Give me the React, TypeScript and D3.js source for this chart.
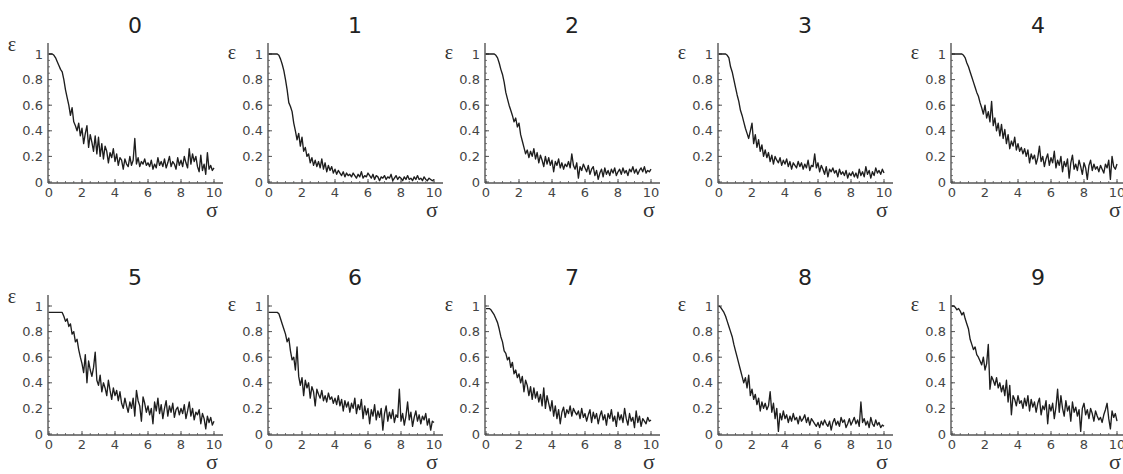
import React from "react";
import * as d3 from "d3";

// sigma grid step (0 .. 10)
const sigmaStep = 0.1;
const panelTitles = ["0", "1", "2", "3", "4", "5", "6", "7", "8", "9"];
const yTickValues = [0, 0.2, 0.4, 0.6, 0.8, 1];
const yTickLabels = ["0", "0.2", "0.4", "0.6", "0.8", "1"];
const xTickValues = [0, 2, 4, 6, 8, 10];
const xTickLabels = ["0", "2", "4", "6", "8", "10"];

const panel0 = [
  1, 1, 1, 0.99, 0.97, 0.94, 0.91, 0.88, 0.86, 0.8,
  0.72, 0.66, 0.6, 0.52, 0.58, 0.47, 0.44, 0.4, 0.46, 0.36,
  0.42, 0.3, 0.38, 0.44, 0.27, 0.37, 0.31, 0.24, 0.36, 0.22,
  0.35, 0.2, 0.3, 0.18, 0.28, 0.24, 0.15, 0.23, 0.19, 0.26,
  0.16, 0.22, 0.13, 0.19, 0.17, 0.1, 0.18, 0.14, 0.12, 0.2,
  0.13, 0.17, 0.34, 0.14, 0.19, 0.12, 0.16, 0.14, 0.18, 0.13,
  0.15, 0.12, 0.17, 0.1, 0.14, 0.11, 0.19, 0.13, 0.16, 0.12,
  0.18, 0.11, 0.15, 0.2, 0.12, 0.16, 0.14, 0.1, 0.19, 0.13,
  0.17, 0.12, 0.2, 0.15, 0.11, 0.26, 0.14, 0.22, 0.16, 0.2,
  0.12, 0.08, 0.21, 0.09, 0.14, 0.06, 0.23, 0.1, 0.13, 0.09, 0.11,
];
const panel1 = [
  1, 1, 1, 1, 1, 1, 0.99, 0.96, 0.92, 0.87,
  0.8, 0.72, 0.62, 0.59, 0.55, 0.46, 0.4, 0.33, 0.38, 0.28,
  0.35, 0.24, 0.27, 0.2, 0.22, 0.15, 0.19, 0.13, 0.17, 0.12,
  0.16, 0.11, 0.18, 0.1, 0.15, 0.08, 0.13, 0.09, 0.12, 0.07,
  0.1, 0.06, 0.09, 0.07, 0.05, 0.08, 0.04, 0.07, 0.05, 0.06,
  0.04, 0.07, 0.05, 0.03, 0.06, 0.04, 0.08, 0.03, 0.05, 0.04,
  0.07, 0.05, 0.03, 0.06, 0.02, 0.05, 0.04, 0.01, 0.04, 0.03,
  0.05, 0.02, 0.04, 0.03, 0.06, 0.01, 0.03, 0.05, 0.02, 0.04,
  0.03, 0.01, 0.04, 0.02, 0.05, 0.02, 0.03, 0.01, 0.04, 0.02,
  0.05, 0.02, 0.03, 0.01, 0.04, 0.02, 0.01, 0.03, 0.02, 0.01, 0.02,
];
const panel2 = [
  1, 1, 1, 1, 1, 1, 0.99, 0.97, 0.93, 0.88,
  0.84, 0.78, 0.7, 0.65, 0.6, 0.56, 0.52, 0.47, 0.5, 0.43,
  0.46, 0.37, 0.32, 0.27, 0.22, 0.25, 0.19, 0.24, 0.2, 0.26,
  0.18, 0.23, 0.15, 0.21, 0.17, 0.12, 0.2, 0.14, 0.19, 0.13,
  0.17, 0.08, 0.16, 0.13, 0.18, 0.11, 0.15, 0.1, 0.14, 0.12,
  0.16, 0.11, 0.22, 0.13, 0.1, 0.15, 0.03, 0.12, 0.09, 0.14,
  0.11, 0.08, 0.13, 0.06, 0.1, 0.12, 0.05, 0.09, 0.02, 0.07,
  0.1, 0.04, 0.11, 0.06, 0.09, 0.05, 0.1, 0.07, 0.11, 0.05,
  0.08, 0.1, 0.06, 0.11, 0.07, 0.09, 0.05, 0.1, 0.08, 0.12,
  0.07, 0.1, 0.06, 0.09, 0.11, 0.08, 0.12, 0.07, 0.09, 0.08, 0.1,
];
const panel3 = [
  1, 1, 1, 1, 1, 0.99, 0.97, 0.9, 0.86, 0.8,
  0.74, 0.68, 0.63, 0.56, 0.52, 0.47, 0.42, 0.38, 0.34, 0.4,
  0.46, 0.3, 0.37, 0.27, 0.33, 0.24, 0.29, 0.2, 0.25, 0.19,
  0.23, 0.16, 0.21, 0.14, 0.2, 0.17, 0.15, 0.19, 0.13, 0.17,
  0.14, 0.18, 0.12, 0.16, 0.1, 0.15, 0.13, 0.11, 0.16, 0.12,
  0.15, 0.1, 0.14, 0.11, 0.17, 0.09, 0.13, 0.12, 0.22, 0.11,
  0.15, 0.08, 0.13, 0.1, 0.06, 0.12, 0.04, 0.1, 0.08, 0.11,
  0.07, 0.09, 0.04, 0.1, 0.06, 0.08, 0.05, 0.09, 0.03, 0.07,
  0.05, 0.08, 0.04, 0.07, 0.03, 0.1, 0.05, 0.08, 0.04, 0.12,
  0.06, 0.09, 0.03, 0.08, 0.05, 0.11, 0.07, 0.09, 0.06, 0.1, 0.07,
];
const panel4 = [
  1, 1, 1, 1, 1, 1, 1, 0.99, 0.97, 0.93,
  0.9, 0.86, 0.82, 0.78, 0.74, 0.7, 0.67, 0.62, 0.58, 0.53,
  0.6, 0.5, 0.55, 0.47, 0.63, 0.44, 0.5, 0.4, 0.46, 0.36,
  0.45, 0.34, 0.41, 0.3, 0.37, 0.26, 0.32, 0.28, 0.35, 0.25,
  0.3, 0.24, 0.27, 0.22, 0.26, 0.2, 0.25, 0.15, 0.22, 0.18,
  0.21, 0.14, 0.19, 0.28, 0.16, 0.2, 0.12, 0.18, 0.22, 0.13,
  0.19, 0.15, 0.24, 0.11, 0.17, 0.13, 0.2, 0.08, 0.16, 0.12,
  0.18, 0.03, 0.15, 0.21, 0.1, 0.14, 0.09, 0.17, 0.12, 0.06,
  0.15, 0.11, 0.02, 0.13, 0.17, 0.09, 0.14, 0.1, 0.12, 0.08,
  0.13, 0.1, 0.07, 0.14, 0.11, 0.17, 0.02, 0.2, 0.12, 0.1, 0.14,
];
const panel5 = [
  0.95, 0.95, 0.95, 0.95, 0.95, 0.95, 0.95, 0.95, 0.95, 0.92,
  0.88, 0.9, 0.84, 0.86, 0.78, 0.8, 0.72, 0.74, 0.66, 0.6,
  0.55, 0.48, 0.62, 0.4, 0.57, 0.5, 0.45, 0.52, 0.64, 0.42,
  0.38, 0.46, 0.33, 0.4, 0.36, 0.3, 0.42, 0.34, 0.27, 0.36,
  0.3, 0.34, 0.26, 0.33, 0.24, 0.2, 0.28, 0.22, 0.17, 0.25,
  0.2, 0.28, 0.14, 0.34, 0.26, 0.22, 0.1, 0.29, 0.24, 0.17,
  0.22, 0.15, 0.2, 0.08, 0.25, 0.18, 0.28, 0.16, 0.23, 0.12,
  0.2, 0.26, 0.14, 0.22, 0.17, 0.24, 0.13, 0.19, 0.21, 0.15,
  0.2, 0.16, 0.23, 0.12, 0.18, 0.25, 0.14, 0.2, 0.11, 0.17,
  0.15, 0.19, 0.08, 0.16, 0.12, 0.04, 0.14, 0.09, 0.13, 0.07, 0.1,
];
const panel6 = [
  0.95, 0.95, 0.95, 0.95, 0.95, 0.95, 0.94, 0.9, 0.86, 0.82,
  0.78, 0.72, 0.75, 0.65, 0.58, 0.6, 0.5, 0.68, 0.45, 0.38,
  0.44, 0.3, 0.42, 0.36, 0.4, 0.28, 0.37, 0.33, 0.22, 0.35,
  0.31, 0.28, 0.34, 0.26, 0.3, 0.25, 0.32, 0.27, 0.29, 0.24,
  0.28, 0.23, 0.3, 0.22, 0.27, 0.18, 0.26, 0.21, 0.25, 0.17,
  0.24, 0.2, 0.28, 0.16, 0.23, 0.19, 0.27, 0.12, 0.22, 0.15,
  0.2, 0.08, 0.19, 0.14, 0.23, 0.11, 0.18, 0.13, 0.2, 0.03,
  0.16, 0.22, 0.1, 0.17, 0.12, 0.19, 0.09, 0.15, 0.13, 0.35,
  0.1, 0.16, 0.07, 0.14, 0.25, 0.11, 0.17, 0.06, 0.13, 0.18,
  0.1, 0.15, 0.08, 0.14, 0.11, 0.16, 0.07, 0.12, 0.03, 0.1, 0.09,
];
const panel7 = [
  0.98, 0.98, 0.98, 0.97, 0.95, 0.93, 0.9, 0.87, 0.82, 0.76,
  0.72, 0.65, 0.63, 0.58, 0.6, 0.52, 0.56, 0.47, 0.5, 0.44,
  0.47, 0.4, 0.45, 0.33, 0.42, 0.38, 0.3, 0.37, 0.27, 0.36,
  0.28, 0.33, 0.25, 0.31, 0.22, 0.36, 0.2, 0.3, 0.24, 0.18,
  0.26, 0.14, 0.22, 0.12, 0.19, 0.08, 0.17, 0.21, 0.13, 0.19,
  0.16, 0.22, 0.14, 0.2, 0.17, 0.15, 0.18, 0.12, 0.2, 0.13,
  0.16, 0.1, 0.15, 0.19, 0.09, 0.17, 0.12, 0.16, 0.08, 0.14,
  0.18, 0.11, 0.15, 0.07, 0.16, 0.12, 0.19, 0.1, 0.14, 0.06,
  0.17, 0.11, 0.15, 0.09, 0.2, 0.12, 0.07, 0.16, 0.1, 0.13,
  0.05, 0.18, 0.09, 0.14, 0.06, 0.12, 0.1, 0.08, 0.13, 0.1, 0.11,
];
const panel8 = [
  1, 0.99, 0.97, 0.95, 0.92, 0.88, 0.84, 0.8, 0.76, 0.7,
  0.65, 0.6, 0.55, 0.5, 0.45, 0.4, 0.44, 0.36, 0.46, 0.3,
  0.35, 0.27, 0.31, 0.23, 0.28, 0.18, 0.25, 0.2, 0.24, 0.19,
  0.22, 0.33, 0.17, 0.24, 0.12, 0.2, 0.02, 0.16, 0.11, 0.18,
  0.12, 0.15, 0.09, 0.14, 0.1, 0.16, 0.11, 0.13, 0.08, 0.14,
  0.1, 0.12, 0.15, 0.09, 0.13, 0.07, 0.12, 0.1, 0.08, 0.06,
  0.09, 0.05, 0.1, 0.07, 0.11, 0.08, 0.06, 0.1, 0.03, 0.09,
  0.12, 0.07, 0.1, 0.06, 0.13, 0.09, 0.11, 0.05, 0.08, 0.12,
  0.07, 0.1, 0.13, 0.08, 0.11, 0.06, 0.25, 0.09, 0.12, 0.07,
  0.1, 0.05, 0.13, 0.08, 0.06, 0.11, 0.07, 0.09, 0.05, 0.07, 0.06,
];
const panel9 = [
  1, 1, 0.99, 0.97, 0.98, 0.96, 0.93, 0.95, 0.9, 0.86,
  0.82, 0.74, 0.7, 0.66, 0.68, 0.62, 0.6, 0.57, 0.54, 0.6,
  0.5, 0.55, 0.7, 0.35, 0.45, 0.42, 0.38, 0.44, 0.36, 0.4,
  0.33, 0.38, 0.3, 0.42, 0.25, 0.38, 0.15, 0.3, 0.27, 0.22,
  0.3, 0.24, 0.26, 0.2, 0.28, 0.22, 0.3, 0.18, 0.27, 0.21,
  0.25, 0.17, 0.24, 0.28, 0.15, 0.22, 0.19, 0.26, 0.08, 0.23,
  0.18, 0.24, 0.12, 0.21, 0.35, 0.17, 0.3, 0.2, 0.14, 0.26,
  0.18, 0.22, 0.1, 0.25, 0.17, 0.21, 0.14, 0.19, 0.02, 0.2,
  0.24, 0.15, 0.19, 0.12, 0.2, 0.16, 0.1, 0.18, 0.14, 0.11,
  0.13, 0.09, 0.15, 0.19, 0.24, 0.12, 0.04, 0.18, 0.13, 0.16, 0.1,
];

const panelSeries = [panel0, panel1, panel2, panel3, panel4, panel5, panel6, panel7, panel8, panel9];

// layout
const colOrigins = [48, 268, 485, 718, 951];
const rowBase = [182, 434];
const plotH = 128;
const plotW = 165;

const tickFont = "'DejaVu Sans', Verdana, sans-serif";
const greekFont = "'Liberation Serif', 'DejaVu Serif', serif";

function Panel({ idx }: { idx: number }) {
  const col = idx % 5;
  const row = Math.floor(idx / 5);
  const ox = colOrigins[col];
  const oy = rowBase[row];
  const x = d3.scaleLinear().domain([0, 10]).range([ox + 1, ox + 1 + plotW]);
  const y = d3.scaleLinear().domain([0, 1]).range([oy, oy - plotH]);
  const values = panelSeries[idx];
  const pts: [number, number][] = values.map((v, i) => [i * sigmaStep, v]);
  const line = d3
    .line<[number, number]>()
    .x((d) => x(d[0]))
    .y((d) => y(d[1]));
  const minorY = d3.range(0, 1.001, 0.05);
  const minorX = d3.range(0, 10.01, 0.5);
  const axisColor = "#555";
  const epsHigher = col === 0 ? -8 : 0;
  return (
    <g>
      <text
        x={ox + 87}
        y={oy - 149}
        textAnchor="middle"
        fontFamily={tickFont}
        fontSize={22}
        fill="#222"
      >
        {panelTitles[idx]}
      </text>
      {/* axes */}
      <line x1={ox} y1={oy + 1} x2={ox + 175} y2={oy + 1} stroke={axisColor} strokeWidth={1.4} />
      <line x1={ox} y1={oy + 1} x2={ox} y2={oy - plotH - 11} stroke={axisColor} strokeWidth={1.4} />
      {minorY.map((t, i) => (
        <line key={"my" + i} x1={ox} x2={ox + 2} y1={y(t)} y2={y(t)} stroke={axisColor} strokeWidth={0.8} />
      ))}
      {minorX.map((t, i) => (
        <line key={"mx" + i} x1={x(t)} x2={x(t)} y1={oy + 1} y2={oy - 1} stroke={axisColor} strokeWidth={0.8} />
      ))}
      {yTickValues.map((t, i) => (
        <g key={"yt" + i}>
          <line x1={ox} x2={ox + 4} y1={y(t)} y2={y(t)} stroke={axisColor} strokeWidth={1} />
          <text
            x={ox - 5}
            y={y(t) + 4.5}
            textAnchor="end"
            fontFamily={tickFont}
            fontSize={13}
            fill="#444"
          >
            {yTickLabels[i]}
          </text>
        </g>
      ))}
      {xTickValues.map((t, i) => (
        <g key={"xt" + i}>
          <line x1={x(t)} x2={x(t)} y1={oy + 1} y2={oy - 3} stroke={axisColor} strokeWidth={1} />
          <text
            x={x(t)}
            y={oy + 15}
            textAnchor="middle"
            fontFamily={tickFont}
            fontSize={13}
            fill="#444"
          >
            {xTickLabels[i]}
          </text>
        </g>
      ))}
      <text
        x={ox - 36}
        y={oy - plotH + 5 + epsHigher}
        textAnchor="middle"
        fontFamily={greekFont}
        fontSize={20}
        fill="#333"
      >
        ε
      </text>
      <text
        x={ox + 164}
        y={oy + 35}
        textAnchor="middle"
        fontFamily={greekFont}
        fontSize={22}
        fill="#333"
      >
        σ
      </text>
      <path d={line(pts) || ""} fill="none" stroke="#1e1e1e" strokeWidth={1.35} strokeLinejoin="round" />
    </g>
  );
}

export default function App() {
  return (
    <svg
      width={1123}
      height={474}
      style={{ position: "absolute", left: 0, top: 0, background: "#fff" }}
    >
      <rect width={1123} height={474} fill="#fff" />
      {panelSeries.map((_, i) => (
        <Panel key={i} idx={i} />
      ))}
    </svg>
  );
}
